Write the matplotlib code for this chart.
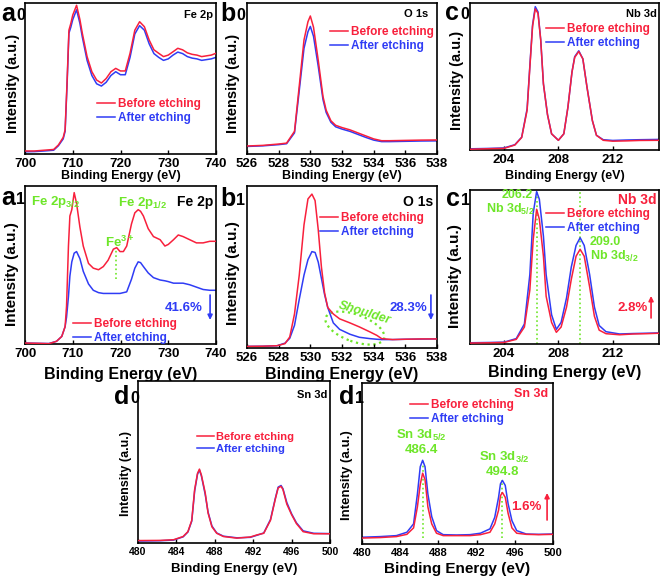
import matplotlib
matplotlib.use("Agg")
import matplotlib.pyplot as plt
import matplotlib.transforms as mtransforms
from matplotlib.patches import Ellipse

plt.rcParams['font.family'] = 'Liberation Sans'
plt.rcParams['font.weight'] = 'bold'
plt.rcParams['mathtext.fontset'] = 'custom'
plt.rcParams['mathtext.rm'] = 'Liberation Sans:bold'
plt.rcParams['mathtext.bf'] = 'Liberation Sans:bold'
plt.rcParams['mathtext.it'] = 'Liberation Sans:bold'

RED = '#f8203c'
BLUE = '#2f3cf5'
GREEN = '#6ee629'

# ---- data (intensity in arbitrary units) ----
# a0 : Fe 2p, top row
a0_e = [700, 702, 704, 706, 707, 708, 708.4, 708.8, 709.2, 709.6, 710, 710.8, 711.5, 712,
        713, 714, 715, 716, 717, 718, 719, 720, 721, 722, 723, 724, 725, 726, 727, 728,
        729, 730, 731, 732, 733, 734, 735, 736, 737, 738, 739, 740]
a0_before = [0.02, 0.02, 0.025, 0.03, 0.06, 0.11, 0.16, 0.47, 0.82, 0.865, 0.92, 0.985, 0.89, 0.80,
             0.645, 0.545, 0.49, 0.47, 0.50, 0.545, 0.567, 0.55, 0.55, 0.667, 0.82, 0.876, 0.843,
             0.755, 0.69, 0.667, 0.645, 0.655, 0.677, 0.70, 0.69, 0.67, 0.66, 0.655, 0.645,
             0.65, 0.655, 0.667]
a0_after = [0.015, 0.016, 0.02, 0.025, 0.055, 0.10, 0.15, 0.45, 0.80, 0.84, 0.89, 0.955, 0.865, 0.775,
            0.62, 0.52, 0.465, 0.45, 0.475, 0.52, 0.545, 0.525, 0.525, 0.64, 0.795, 0.85, 0.82,
            0.73, 0.665, 0.64, 0.62, 0.63, 0.655, 0.675, 0.665, 0.645, 0.635, 0.63, 0.62,
            0.625, 0.63, 0.64]

# b0 : O 1s, top row
b0_e = [526, 527, 528, 528.5, 529, 529.3, 529.6, 529.85, 530.0, 530.2, 530.5, 530.8, 531.0,
        531.3, 531.6, 532, 532.5, 533, 533.5, 534, 534.5, 535, 536, 537, 538]
b0_before = [0.053, 0.057, 0.066, 0.072, 0.15, 0.45, 0.755, 0.876, 0.914, 0.84, 0.62, 0.38, 0.29,
             0.22, 0.19, 0.175, 0.16, 0.14, 0.12, 0.10, 0.088, 0.088, 0.09, 0.092, 0.093]
b0_after = [0.05, 0.054, 0.062, 0.068, 0.14, 0.42, 0.70, 0.81, 0.845, 0.78, 0.58, 0.36, 0.275,
            0.21, 0.18, 0.165, 0.15, 0.13, 0.11, 0.092, 0.082, 0.082, 0.084, 0.086, 0.087]

# c0 : Nb 3d, top row
c0_e = [201.5, 203.0, 204.0, 204.8, 205.3, 205.7, 205.9, 206.1, 206.3, 206.5, 206.7, 206.9, 207.2,
        207.5, 208.0, 208.4, 208.7, 209.0, 209.2, 209.5, 209.8, 210.1, 210.5, 210.8, 211.3,
        212.0, 213.0, 214.0, 215.4]
c0_before = [0.005, 0.009, 0.011, 0.034, 0.085, 0.27, 0.56, 0.84, 0.96, 0.93, 0.75, 0.45, 0.24,
             0.11, 0.066, 0.11, 0.29, 0.53, 0.63, 0.67, 0.62, 0.43, 0.20, 0.10, 0.066,
             0.06, 0.062, 0.065, 0.066]
c0_after = [0.008, 0.011, 0.014, 0.036, 0.087, 0.28, 0.57, 0.85, 0.975, 0.94, 0.75, 0.45, 0.24,
            0.11, 0.066, 0.11, 0.29, 0.53, 0.635, 0.675, 0.62, 0.43, 0.20, 0.10, 0.07,
            0.065, 0.068, 0.07, 0.072]

# a1 : Fe 2p, middle row
a1_e = [700, 703, 705, 706.6, 707.7, 708.4, 708.7, 709.1, 709.4, 709.8, 710.3, 710.8, 711.5,
        712.2, 713.3, 714.3, 715.4, 716.4, 717.4, 718.5, 719.2, 719.9, 720.6, 721.3, 722.3,
        723.0, 723.7, 724.2, 724.8, 725.8, 726.9, 728.3, 729.3, 730.0, 731.1, 732.1, 733.1,
        734.5, 735.9, 737.3, 738.7, 740]
a1_before = [0.006, 0.004, 0.002, 0.017, 0.048, 0.11, 0.24, 0.62, 0.81, 0.85, 0.958, 0.89, 0.74,
             0.62, 0.51, 0.48, 0.47, 0.49, 0.53, 0.60, 0.61, 0.585, 0.585, 0.62, 0.76,
             0.83, 0.85, 0.84, 0.81, 0.73, 0.68, 0.66, 0.62, 0.63, 0.66, 0.69, 0.68,
             0.66, 0.64, 0.64, 0.65, 0.65]
a1_after = [0.006, 0.004, 0.003, 0.017, 0.048, 0.11, 0.17, 0.30, 0.43, 0.52, 0.575, 0.585, 0.54,
            0.46, 0.38, 0.34, 0.325, 0.32, 0.32, 0.32, 0.32, 0.32, 0.325, 0.33, 0.41,
            0.48, 0.52, 0.515, 0.49, 0.45, 0.42, 0.405, 0.40, 0.395, 0.385, 0.385, 0.385,
            0.375, 0.36, 0.345, 0.34, 0.34]

# b1 : O 1s, middle row
b1_e = [526, 527, 527.9, 528.4, 528.7, 529.0, 529.3, 529.6, 529.85, 530.1, 530.3, 530.5, 530.7,
        530.9, 531.1, 531.45, 531.85, 532.5, 533.1, 533.75, 534.2, 534.5, 535.2, 536, 537, 538]
b1_before = [0.01, 0.011, 0.014, 0.027, 0.068, 0.21, 0.45, 0.76, 0.92, 0.95, 0.91, 0.73, 0.5,
             0.34, 0.25, 0.21, 0.18, 0.155, 0.13, 0.10, 0.078, 0.058, 0.052, 0.054, 0.056, 0.056]
b1_after = [0.01, 0.011, 0.014, 0.03, 0.06, 0.14, 0.30, 0.45, 0.545, 0.595, 0.59, 0.53, 0.43,
            0.33, 0.25, 0.155, 0.115, 0.085, 0.066, 0.058, 0.054, 0.052, 0.052, 0.054, 0.055, 0.056]

# c1 : Nb 3d, middle row
c1_e = [201.5, 203.0, 204.0, 204.9, 205.5, 205.9, 206.15, 206.4, 206.6, 206.9, 207.1, 207.5,
        207.85, 208.2, 208.6, 208.95, 209.3, 209.6, 209.9, 210.3, 210.65, 211.0, 211.5,
        212.5, 213.5, 214.5, 215.4]
c1_before = [0.006, 0.008, 0.01, 0.03, 0.11, 0.35, 0.68, 0.875, 0.81, 0.57, 0.31, 0.14,
             0.076, 0.11, 0.24, 0.42, 0.57, 0.615, 0.57, 0.37, 0.18, 0.09, 0.067,
             0.06, 0.065, 0.067, 0.07]
c1_after = [0.008, 0.01, 0.012, 0.035, 0.13, 0.45, 0.85, 0.99, 0.94, 0.70, 0.45, 0.19,
            0.095, 0.14, 0.30, 0.50, 0.64, 0.69, 0.64, 0.45, 0.24, 0.12, 0.08,
            0.065, 0.068, 0.07, 0.072]

# d0 : Sn 3d, bottom row
d0_e = [480, 482.3, 483.7, 484.7, 485.2, 485.6, 485.9, 486.2, 486.4, 486.6, 487.0, 487.3, 487.7,
        488.2, 488.9, 490.3, 491.7, 492.4, 493.1, 493.8, 494.3, 494.6, 494.9, 495.1, 495.5,
        496.0, 496.5, 497.2, 498.3, 500]
d0_before = [0.015, 0.016, 0.02, 0.04, 0.07, 0.14, 0.33, 0.43, 0.456, 0.42, 0.31, 0.185, 0.10,
             0.06, 0.04, 0.03, 0.037, 0.05, 0.06, 0.14, 0.27, 0.34, 0.35, 0.33, 0.24,
             0.175, 0.12, 0.07, 0.057, 0.057]
d0_after = [0.012, 0.014, 0.018, 0.038, 0.068, 0.135, 0.32, 0.425, 0.45, 0.415, 0.30, 0.19, 0.105,
            0.062, 0.042, 0.032, 0.035, 0.048, 0.062, 0.145, 0.275, 0.345, 0.355, 0.335, 0.25,
            0.18, 0.125, 0.075, 0.06, 0.058]

# d1 : Sn 3d, bottom row
d1_e = [480, 481.9, 483.6, 484.7, 485.4, 485.8, 486.1, 486.35, 486.6, 486.9, 487.3, 487.8, 488.5,
        489.9, 491.3, 492.4, 493.4, 493.9, 494.3, 494.5, 494.7, 495.0, 495.3, 495.7, 496.2,
        497.2, 498.5, 500]
d1_before = [0.037, 0.04, 0.046, 0.06, 0.10, 0.23, 0.37, 0.44, 0.40, 0.23, 0.125, 0.067, 0.052,
             0.052, 0.052, 0.058, 0.073, 0.125, 0.21, 0.30, 0.32, 0.29, 0.19, 0.10, 0.067,
             0.06, 0.058, 0.06]
d1_after = [0.042, 0.046, 0.052, 0.073, 0.125, 0.31, 0.48, 0.52, 0.48, 0.31, 0.17, 0.083, 0.058,
            0.056, 0.058, 0.067, 0.094, 0.166, 0.29, 0.374, 0.395, 0.364, 0.25, 0.145, 0.083,
            0.062, 0.06, 0.062]

# peak markers
fe3_peak = 719.0
nb_peaks = [206.4, 209.6]
sn_peaks = [486.35, 494.7]
sn_peak_heights = [0.52, 0.395]

W, H = 662, 578
fig = plt.figure(figsize=(W / 100, H / 100), dpi=100)


def add_ax(x0, y0, x1, y1):
    return fig.add_axes([x0 / W, 1 - y1 / H, (x1 - x0) / W, (y1 - y0) / H])


def setup(ax, e, before, after, xlim, xticks, tick_fs, xl_fs, yl_fs, xl_y, yl_x, yl_y=0.5):
    ax.plot(e, after, color=BLUE, lw=1.1, label='After etching', zorder=2)
    ax.plot(e, before, color=RED, lw=1.1, label='Before etching', zorder=3)
    ax.set_xlim(*xlim)
    ax.set_ylim(0, 1)
    ax.set_yticks([])
    ax.set_xticks(xticks)
    ax.tick_params(axis='x', direction='in', length=3, width=1, pad=3, labelsize=tick_fs)
    for s in ax.spines.values():
        s.set_linewidth(1.2)
    ax.set_xlabel('Binding Energy (eV)', fontsize=xl_fs, fontweight='bold')
    ax.xaxis.label.set_va('center')
    ax.xaxis.set_label_coords(0.5, xl_y)
    ax.set_ylabel('Intensity (a.u.)', fontsize=yl_fs, fontweight='bold')
    ax.yaxis.label.set_va('center')
    ax.yaxis.set_label_coords(yl_x, yl_y)


def legend(ax, x, y, fs=8.5):
    h, l = ax.get_legend_handles_labels()
    ax.legend(h[::-1], l[::-1], loc='upper left', bbox_to_anchor=(x, y), frameon=False,
              borderpad=0, borderaxespad=0, handlelength=1.5, handletextpad=0.25,
              labelspacing=0.15, labelcolor='linecolor',
              prop=dict(size=fs, weight='bold'))


def info(ax, x, y, s, color='black', fs=8, ha='right', **kw):
    ax.text(x, y, s, transform=ax.transAxes, ha=ha, va='center', fontsize=fs,
            color=color, fontweight='bold', **kw)


def arrow(ax, x, y0, y1, color):
    ax.annotate('', xy=(x, y1), xytext=(x, y0), xycoords='axes fraction',
                arrowprops=dict(arrowstyle='-|>', color=color, lw=1.2,
                                mutation_scale=7, shrinkA=0, shrinkB=0))


def panel_label(x, y, letter, sub, gap):
    fig.text(x / W, 1 - y / H, letter, fontsize=18, fontweight='bold', va='baseline', ha='left')
    fig.text((x + gap) / W, 1 - (y - 1) / H, sub, fontsize=11.5, fontweight='bold',
             va='baseline', ha='left')


# ---- top row ----
ax = add_ax(25, 3, 216, 154)
setup(ax, a0_e, a0_before, a0_after, (700, 740), [700, 710, 720, 730, 740],
      9.5, 9, 10.5, -(176 - 154) / 151, -12 / 191, 0.47)
legend(ax, 0.377, 0.37)
info(ax, 0.984, 0.92, 'Fe 2p')

ax = add_ax(247, 3, 437, 154)
setup(ax, b0_e, b0_before, b0_after, (526, 538), [526, 528, 530, 532, 534, 536, 538],
      9.5, 9, 10.5, -(176 - 154) / 151, -14 / 190, 0.47)
legend(ax, 0.437, 0.848)
info(ax, 0.953, 0.927, 'O 1s')

ax = add_ax(470, 3, 659, 150)
setup(ax, c0_e, c0_before, c0_after, (201.5, 215.4), [204, 208, 212],
      9.5, 9, 10.5, -(176 - 150) / 147, -13 / 189, 0.47)
legend(ax, 0.402, 0.864)
info(ax, 0.989, 0.925, 'Nb 3d')

# ---- middle row ----
ax = add_ax(25, 186, 216, 344)
setup(ax, a1_e, a1_before, a1_after, (700, 740), [700, 710, 720, 730, 740],
      9.5, 11.5, 11, -(374 - 344) / 158, -13 / 191, 0.44)
legend(ax, 0.251, 0.165)
info(ax, 0.984, 0.9, 'Fe 2p', fs=10)
info(ax, 0.031, 0.9, r'Fe 2p$_{3/2}$', color=GREEN, fs=9.5, ha='left')
info(ax, 0.487, 0.892, r'Fe 2p$_{1/2}$', color=GREEN, fs=9.5, ha='left')
info(ax, 0.419, 0.64, r'Fe$^{3+}$', color=GREEN, fs=9.5, ha='left')
ax.plot([fe3_peak, fe3_peak], [0.41, 0.61], color=GREEN, lw=1.2, ls=':')
info(ax, 0.932, 0.228, '41.6%', color=BLUE, fs=9.5)
arrow(ax, 0.969, 0.31, 0.152, BLUE)

ax = add_ax(247, 186, 437, 348)
setup(ax, b1_e, b1_before, b1_after, (526, 538), [526, 528, 530, 532, 534, 536, 538],
      9.5, 11.5, 11, -(375 - 348) / 162, -14 / 190, 0.46)
legend(ax, 0.384, 0.84)
info(ax, 0.98, 0.9, 'O 1s', fs=10)
info(ax, 0.62, 0.215, 'Shoulder', color=GREEN, fs=9, ha='center', rotation=-17, style='italic')
ell = Ellipse((0, 0), width=0.62, height=0.27, angle=-20, fill=False, ec=GREEN, lw=1.6, ls=':',
              transform=fig.dpi_scale_trans + mtransforms.ScaledTranslation(0.568, 0.123, ax.transAxes))
ax.add_patch(ell)
info(ax, 0.947, 0.247, '28.3%', color=BLUE, fs=9.5)
arrow(ax, 0.968, 0.327, 0.173, BLUE)

ax = add_ax(470, 190, 659, 344)
setup(ax, c1_e, c1_before, c1_after, (201.5, 215.4), [204, 208, 212],
      9.5, 11.5, 11, -(372 - 344) / 154, -15 / 189, 0.44)
for p in nb_peaks:
    ax.axvline(p, color=GREEN, lw=1.2, ls=':', zorder=1)
legend(ax, 0.402, 0.883)
info(ax, 0.99, 0.935, 'Nb 3d', color=RED, fs=10)
info(ax, 0.249, 0.968, '206.2', color=GREEN, fs=9, ha='center')
info(ax, 0.212, 0.876, r'Nb 3d$_{5/2}$', color=GREEN, fs=9, ha='center')
info(ax, 0.635, 0.66, '209.0', color=GREEN, fs=9, ha='left')
info(ax, 0.635, 0.57, r'Nb 3d$_{3/2}$', color=GREEN, fs=9, ha='left')
info(ax, 0.942, 0.234, '2.8%', color=RED, fs=9.5)
arrow(ax, 0.958, 0.169, 0.312, RED)

# ---- bottom row ----
ax = add_ax(138, 381, 330, 543)
setup(ax, d0_e, d0_before, d0_after, (480, 500), [480, 484, 488, 492, 496, 500],
      7.5, 9.5, 9, -(569 - 543) / 162, -12 / 192, 0.43)
legend(ax, 0.307, 0.685, fs=8)
info(ax, 0.984, 0.914, 'Sn 3d')

ax = add_ax(362, 383, 553, 544)
setup(ax, d1_e, d1_before, d1_after, (480, 500), [480, 484, 488, 492, 496, 500],
      8, 11, 9.5, -(569 - 544) / 161, -15 / 191, 0.43)
for p, h in zip(sn_peaks, sn_peak_heights):
    ax.plot([p, p], [0.04, h], color=GREEN, lw=1.2, ls=':', zorder=1)
legend(ax, 0.251, 0.90)
info(ax, 0.974, 0.93, 'Sn 3d', color=RED, fs=9)
info(ax, 0.309, 0.677, r'Sn 3d$_{5/2}$', color=GREEN, fs=9.5, ha='center')
info(ax, 0.309, 0.584, '486.4', color=GREEN, fs=9.5, ha='center')
info(ax, 0.743, 0.54, r'Sn 3d$_{3/2}$', color=GREEN, fs=9.5, ha='center')
info(ax, 0.733, 0.447, '494.8', color=GREEN, fs=9.5, ha='center')
info(ax, 0.942, 0.23, '1.6%', color=RED, fs=9.5)
arrow(ax, 0.969, 0.149, 0.317, RED)

# ---- panel letters ----
panel_label(1, 21, 'a', '0', 15)
panel_label(220, 21, 'b', '0', 16)
panel_label(445, 20, 'c', '0', 15)
panel_label(1, 205, 'a', '1', 15)
panel_label(220, 206, 'b', '1', 16)
panel_label(446, 206, 'c', '1', 15)
panel_label(114, 404, 'd', '0', 16)
panel_label(339, 404, 'd', '1', 16)

fig.savefig('out.png', dpi=100)
